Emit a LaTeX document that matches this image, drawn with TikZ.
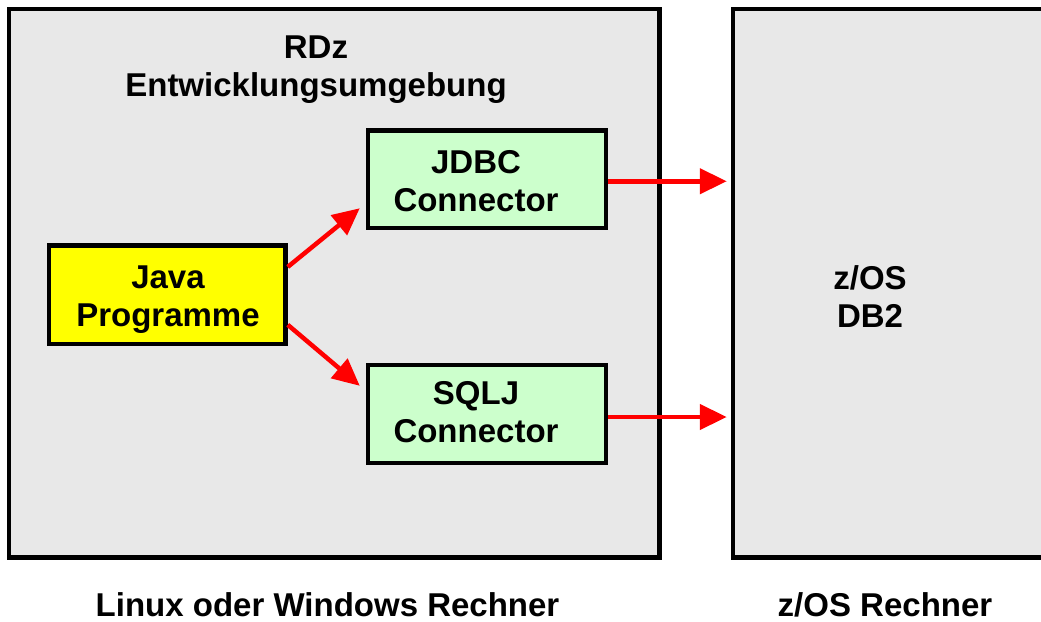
\documentclass[tikz,border=0pt]{standalone}
\usepackage{fontspec}
\setmainfont{Liberation Sans}
\usetikzlibrary{arrows.meta,calc}
\definecolor{panelgray}{HTML}{E8E8E8}
\definecolor{connGreen}{HTML}{CCFFCC}
\definecolor{javaYellow}{HTML}{FFFF00}
\begin{document}
\begin{tikzpicture}[x=1pt,y=-1pt,
  box/.style={draw=black,line width=4.5pt,inner sep=0pt},
  lbl/.style={font=\fontsize{33}{38}\selectfont\bfseries,align=center,inner sep=0pt,text=black},
  arr/.style={draw=red,line width=4.5pt,-{Triangle[length=27pt,width=25pt]}}]
\useasboundingbox[fill=white] (0,0) rectangle (1041,621);
\clip (0,0) rectangle (1041,621);
% panels
\node[box,fill=panelgray,minimum width=650.5pt,minimum height=548.5pt] (dev) at (334.25,283.25) {};
\node[box,fill=panelgray,minimum width=327pt,minimum height=548.5pt] (zos) at (896.5,283.25) {};
% inner boxes
\node[box,fill=javaYellow,minimum width=236.5pt,minimum height=98.5pt] (java) at (167.25,294.75) {};
\node[box,fill=connGreen,minimum width=238pt,minimum height=97.5pt] (jdbc) at (487,179.25) {};
\node[box,fill=connGreen,minimum width=238pt,minimum height=98pt] (sqlj) at (487,414) {};
% labels
\node[lbl] (devlbl) at (316,70) {RDz\\Entwicklungsumgebung};
\node[lbl] (javalbl) at (168,300) {Java\\Programme};
\node[lbl] (jdbclbl) at (476,181) {JDBC\\Connector};
\node[lbl] (sqljlbl) at (476,412.5) {SQLJ\\Connector};
\node[lbl] (zoslbl) at (870,296.5) {z/OS\\DB2};
\node[lbl,anchor=base] (devcap) at (327.5,616) {Linux oder Windows Rechner};
\node[lbl,anchor=base] (zoscap) at (885,616) {z/OS Rechner};
% arrow end points
\coordinate (tj) at ($(jdbc.south west)+(-6,-22)$);
\coordinate (ts) at ($(sqlj.north west)+(-6,23)$);
\coordinate (tz1) at ($(jdbc.east -| zos.west)+(-4,2)$);
\coordinate (tz2) at ($(sqlj.east -| zos.west)+(-4,3)$);
% connectors
\draw[arr] (java.13) -- (tj);
\draw[arr] (java.-14) -- (ts);
\draw[arr] (jdbc.east |- tz1) -- (tz1);
\draw[arr] (sqlj.east |- tz2) -- (tz2);
\end{tikzpicture}
\end{document}
